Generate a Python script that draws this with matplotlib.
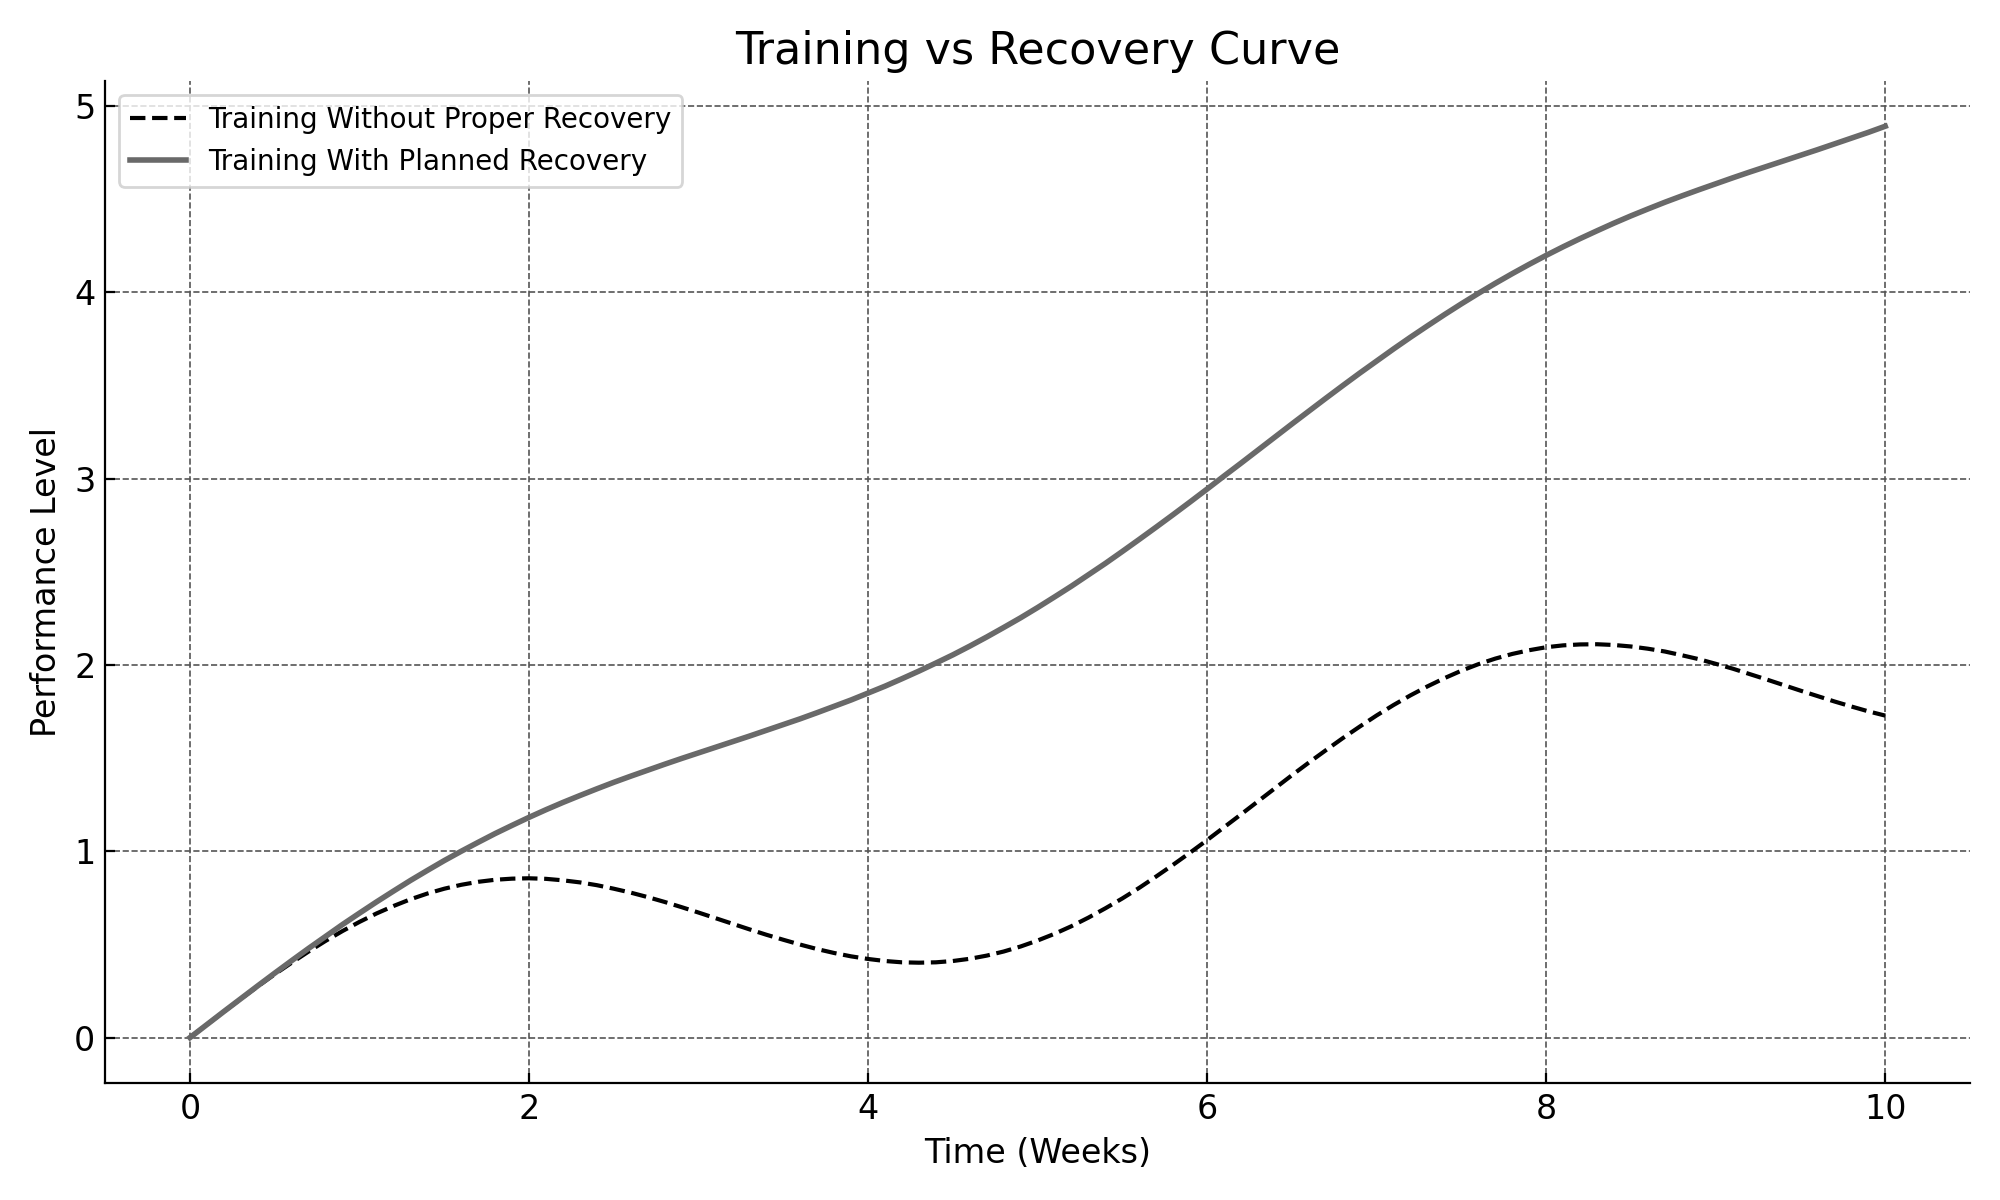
import matplotlib
matplotlib.use('Agg')
import matplotlib.pyplot as plt

# Время в неделях (шаг 0.1)
weeks = [round(i * 0.1, 1) for i in range(101)]

# Тренировки без восстановления
no_recovery = [
    0.000, 0.070, 0.139, 0.208, 0.275, 0.340, 0.402, 0.462, 0.519, 0.572,
    0.621, 0.666, 0.706, 0.742, 0.773, 0.799, 0.820, 0.836, 0.847, 0.853,
    0.855, 0.852, 0.844, 0.833, 0.818, 0.799, 0.778, 0.754, 0.728, 0.700,
    0.671, 0.641, 0.611, 0.581, 0.552, 0.525, 0.499, 0.475, 0.454, 0.436,
    0.422, 0.411, 0.404, 0.402, 0.404, 0.411, 0.423, 0.440, 0.462, 0.489,
    0.521, 0.557, 0.598, 0.644, 0.694, 0.747, 0.804, 0.865, 0.928, 0.993,
    1.060, 1.129, 1.198, 1.268, 1.338, 1.408, 1.476, 1.542, 1.607, 1.669,
    1.729, 1.785, 1.837, 1.885, 1.929, 1.969, 2.004, 2.034, 2.059, 2.079,
    2.095, 2.105, 2.110, 2.111, 2.107, 2.099, 2.087, 2.072, 2.052, 2.031,
    2.006, 1.980, 1.951, 1.922, 1.892, 1.862, 1.833, 1.804, 1.777, 1.751,
    1.728]

# Тренировки с плановым восстановлением
with_recovery = [
    0.000, 0.070, 0.140, 0.209, 0.278, 0.346, 0.413, 0.479, 0.543, 0.607,
    0.668, 0.728, 0.786, 0.843, 0.897, 0.950, 1.000, 1.048, 1.095, 1.139,
    1.182, 1.223, 1.262, 1.299, 1.335, 1.370, 1.403, 1.435, 1.467, 1.498,
    1.528, 1.558, 1.588, 1.618, 1.649, 1.680, 1.711, 1.744, 1.778, 1.812,
    1.849, 1.886, 1.926, 1.967, 2.010, 2.054, 2.101, 2.150, 2.201, 2.253,
    2.308, 2.365, 2.423, 2.484, 2.545, 2.609, 2.674, 2.740, 2.807, 2.875,
    2.944, 3.014, 3.083, 3.153, 3.223, 3.293, 3.362, 3.431, 3.499, 3.566,
    3.631, 3.696, 3.759, 3.820, 3.880, 3.938, 3.994, 4.048, 4.100, 4.150,
    4.198, 4.244, 4.288, 4.330, 4.371, 4.410, 4.447, 4.483, 4.517, 4.550,
    4.582, 4.614, 4.645, 4.675, 4.705, 4.735, 4.765, 4.796, 4.827, 4.858,
    4.891]

fig, ax = plt.subplots(figsize=(10, 6), dpi=200)

ax.plot(weeks, no_recovery, linestyle='--', color='black', linewidth=1.5,
        label='Training Without Proper Recovery')
ax.plot(weeks, with_recovery, linestyle='-', color='dimgray', linewidth=2,
        label='Training With Planned Recovery')

ax.set_title('Training vs Recovery Curve', fontsize=16)
ax.set_xlabel('Time (Weeks)', fontsize=12)
ax.set_ylabel('Performance Level', fontsize=12)
ax.tick_params(labelsize=12, direction='in')

ax.grid(True, linestyle='--', color='#555555', linewidth=0.6)
ax.spines['top'].set_visible(False)
ax.spines['right'].set_visible(False)
ax.legend(loc='upper left', fontsize=10)

plt.tight_layout()
plt.savefig('out.png', dpi=200)
